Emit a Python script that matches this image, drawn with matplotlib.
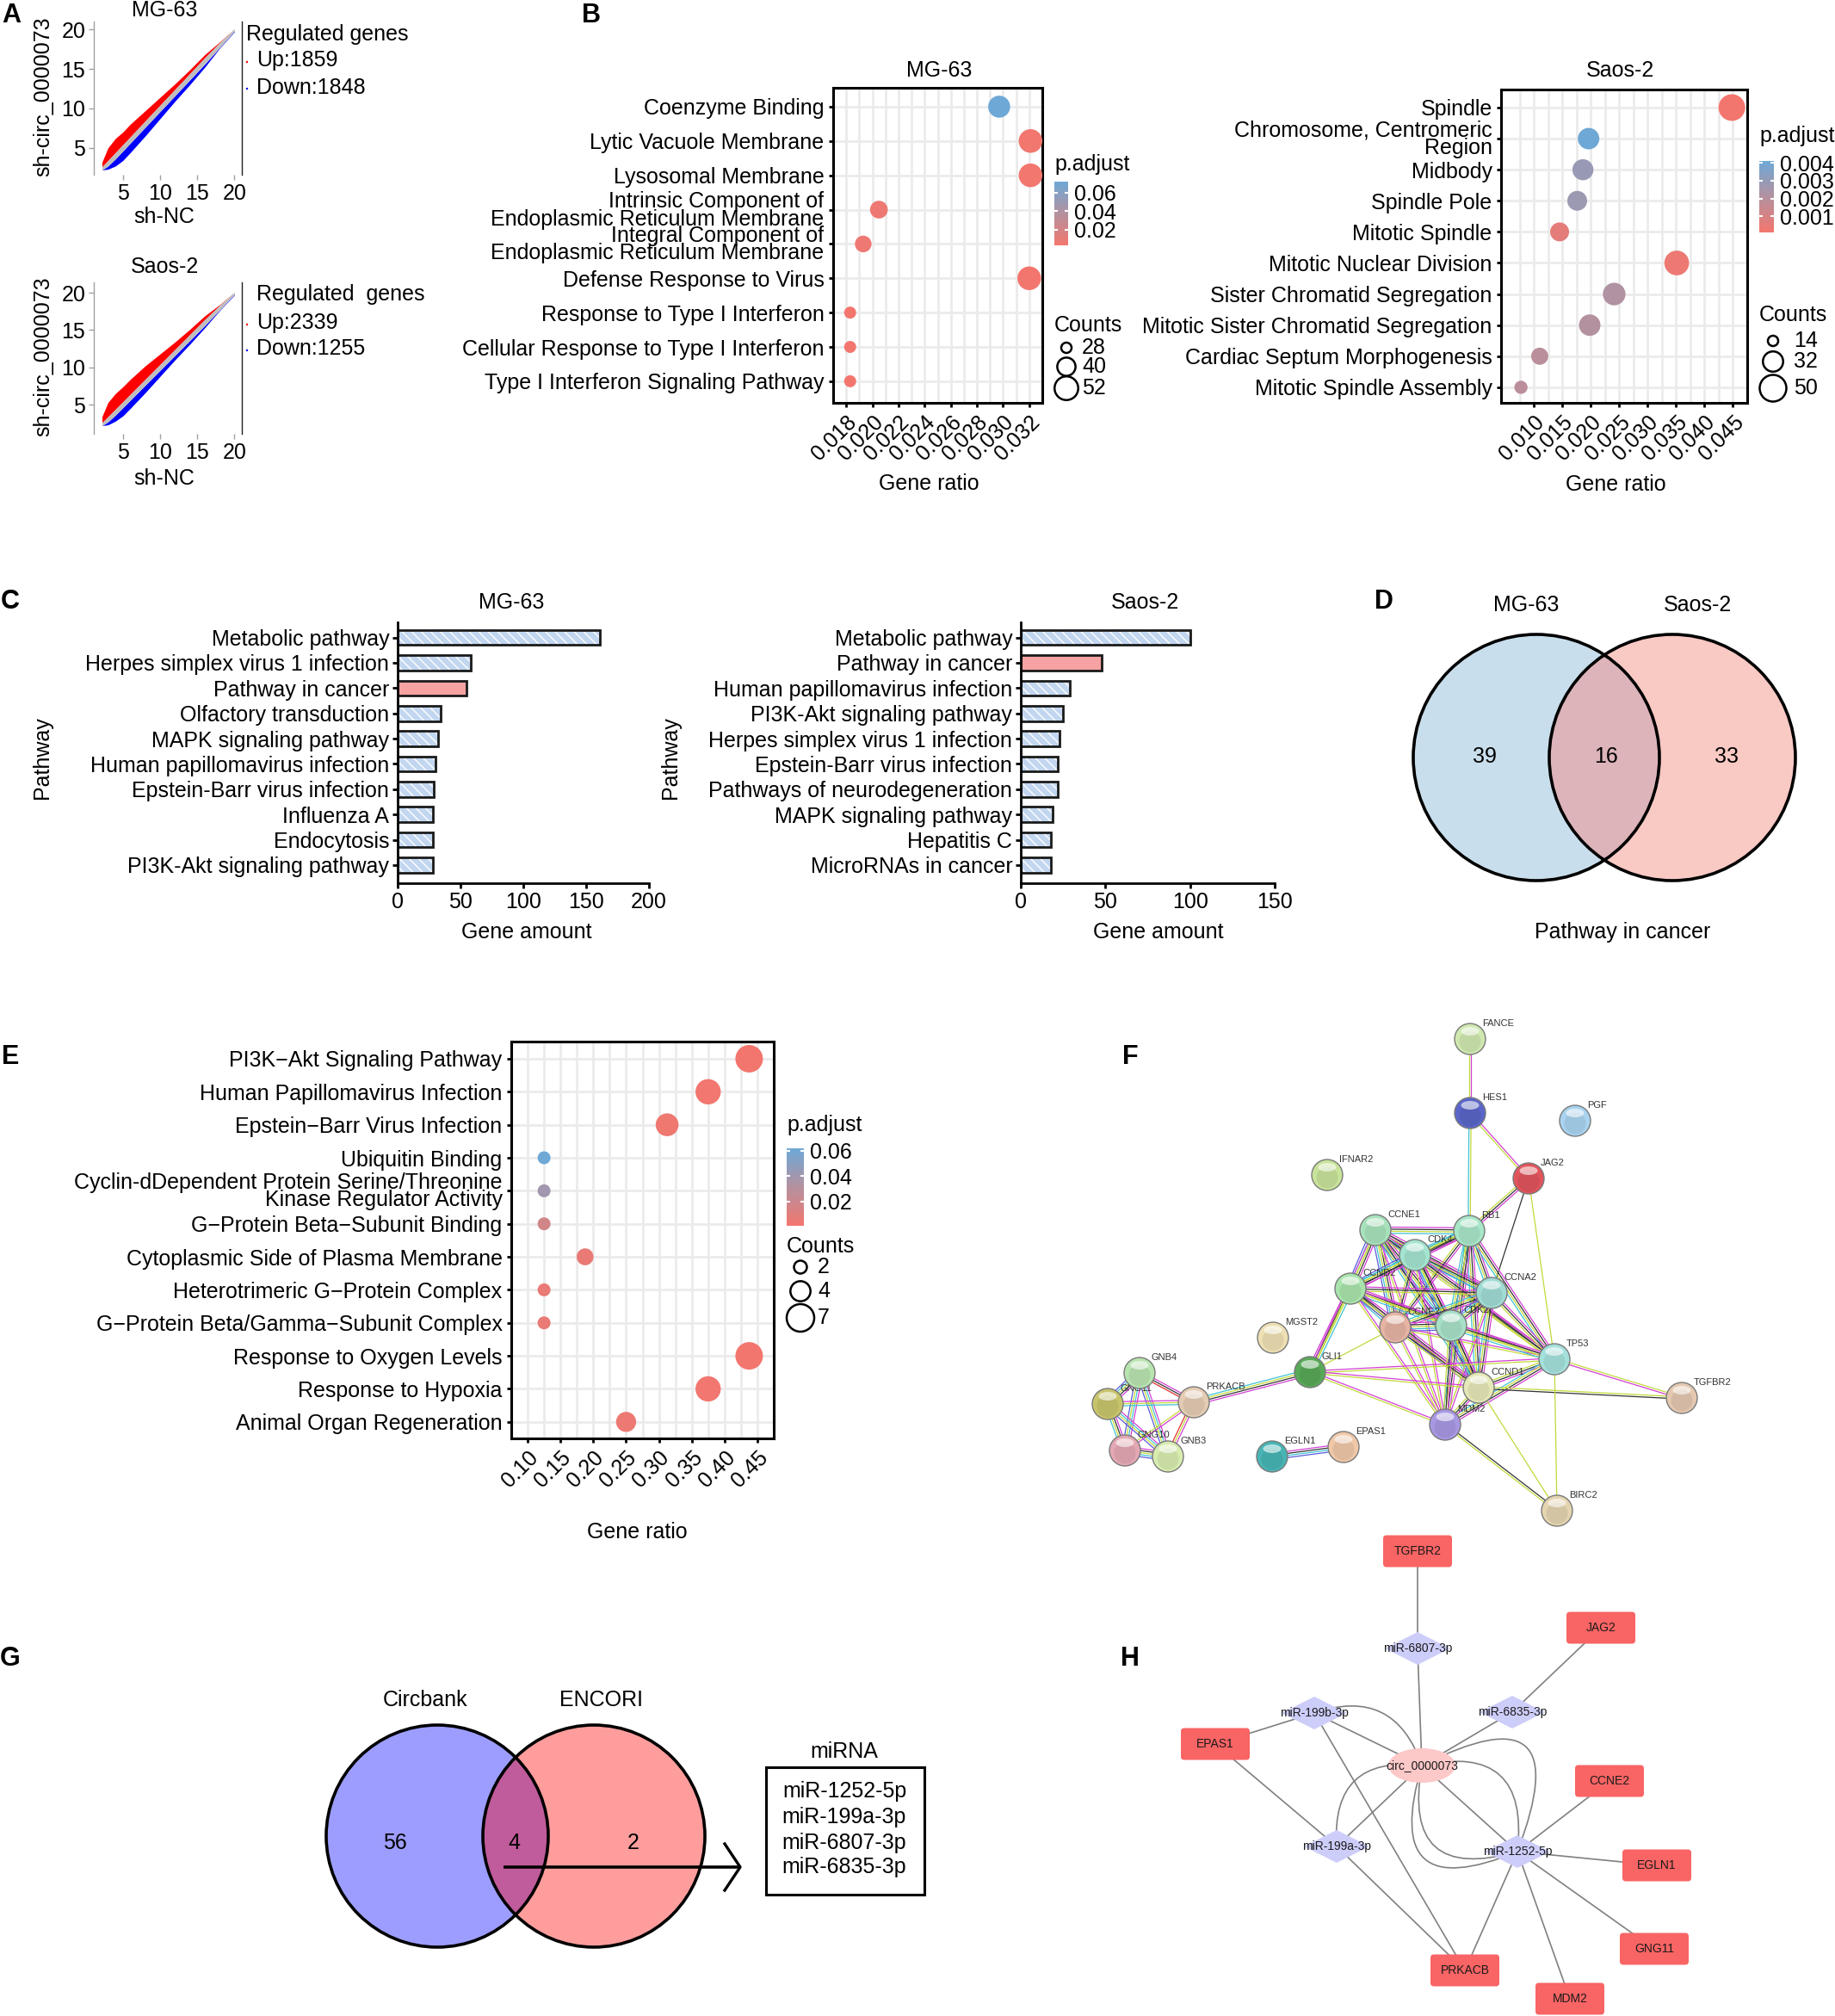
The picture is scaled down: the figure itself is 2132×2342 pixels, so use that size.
import numpy as np
import matplotlib
matplotlib.use("Agg")
import matplotlib.pyplot as plt
from matplotlib.patches import Circle, Ellipse, Polygon, FancyBboxPatch, Rectangle, FancyArrowPatch
from matplotlib.colors import LinearSegmentedColormap, Normalize
from matplotlib.cm import ScalarMappable

plt.rcParams['font.family'] = ['Liberation Sans', 'DejaVu Sans']

# ---------------- A: expression scatter (envelopes of the point clouds) ----------------
a_x = [2.2, 3, 4, 5, 6, 8, 10, 12, 14, 16, 18, 20]
mg_red_top = [3.2, 5.0, 6.2, 7.0, 8.0, 9.7, 11.4, 13.1, 14.9, 16.8, 18.4, 20.1]
mg_gray_top = [2.6, 3.4, 4.4, 5.4, 6.4, 8.4, 10.4, 12.4, 14.4, 16.4, 18.3, 20.1]
mg_gray_bot = [2.2, 2.7, 3.6, 4.6, 5.6, 7.6, 9.6, 11.6, 13.6, 15.6, 17.7, 19.8]
mg_blue_bot = [2.2, 2.3, 2.7, 3.4, 4.4, 6.5, 8.7, 10.9, 13.0, 15.2, 17.6, 19.7]
saos_red_top = [3.4, 5.3, 6.5, 7.4, 8.4, 10.2, 11.8, 13.4, 15.1, 16.9, 18.4, 20.1]
saos_gray_top = [2.6, 3.4, 4.4, 5.4, 6.4, 8.4, 10.4, 12.4, 14.4, 16.4, 18.3, 20.1]
saos_gray_bot = [2.2, 2.7, 3.6, 4.6, 5.6, 7.6, 9.6, 11.6, 13.6, 15.6, 17.7, 19.8]
saos_blue_bot = [2.2, 2.3, 2.8, 3.5, 4.5, 6.6, 8.8, 11.0, 13.1, 15.3, 17.6, 19.7]
mg_up, mg_down = 1859, 1848
saos_up, saos_down = 2339, 1255

# ---------------- B: GO dot plots ----------------
b1_terms = ['Coenzyme Binding', 'Lytic Vacuole Membrane', 'Lysosomal Membrane',
            'Intrinsic Component of\nEndoplasmic Reticulum Membrane',
            'Integral Component of\nEndoplasmic Reticulum Membrane',
            'Defense Response to Virus', 'Response to Type I Interferon',
            'Cellular Response to Type I Interferon', 'Type I Interferon Signaling Pathway']
b1_ratio = [0.0297, 0.0321, 0.0321, 0.0205, 0.0193, 0.0320, 0.0183, 0.0183, 0.0183]
b1_count = [48, 52, 52, 39, 37, 52, 30, 30, 30]
b1_padj = [0.072, 0.004, 0.004, 0.006, 0.006, 0.003, 0.003, 0.003, 0.003]
b1_xticks = [0.018, 0.020, 0.022, 0.024, 0.026, 0.028, 0.030, 0.032]

b2_terms = ['Spindle', 'Chromosome, Centromeric\nRegion', 'Midbody', 'Spindle Pole', 'Mitotic Spindle',
            'Mitotic Nuclear Division', 'Sister Chromatid Segregation',
            'Mitotic Sister Chromatid Segregation', 'Cardiac Septum Morphogenesis',
            'Mitotic Spindle Assembly']
b2_ratio = [0.0448, 0.0196, 0.0186, 0.0176, 0.0145, 0.0351, 0.0241, 0.0198, 0.0110, 0.0077]
b2_count = [50, 35, 34, 31, 29, 44, 38, 35, 25, 18]
b2_padj = [0.0001, 0.0041, 0.0029, 0.0028, 0.0006, 0.0003, 0.0022, 0.0021, 0.0019, 0.0019]
b2_xticks = [0.010, 0.015, 0.020, 0.025, 0.030, 0.035, 0.040, 0.045]

# ---------------- C: KEGG bars ----------------
c1_path = ['Metabolic pathway', 'Herpes simplex virus 1 infection', 'Pathway in cancer',
           'Olfactory transduction', 'MAPK signaling pathway', 'Human papillomavirus infection',
           'Epstein-Barr virus infection', 'Influenza A', 'Endocytosis', 'PI3K-Akt signaling pathway']
c1_genes = [161, 58, 55, 34, 32, 30, 29, 28, 28, 28]
c2_path = ['Metabolic pathway', 'Pathway in cancer', 'Human papillomavirus infection',
           'PI3K-Akt signaling pathway', 'Herpes simplex virus 1 infection',
           'Epstein-Barr virus infection', 'Pathways of neurodegeneration', 'MAPK signaling pathway',
           'Hepatitis C', 'MicroRNAs in cancer']
c2_genes = [100, 48, 29, 25, 23, 22, 22, 19, 18, 18]

# ---------------- D / G: Venn counts ----------------
d_sets = ['MG-63', 'Saos-2']
d_counts = [39, 16, 33]
g_sets = ['Circbank', 'ENCORI']
g_counts = [56, 4, 2]
g_mirna = ['miR-1252-5p', 'miR-199a-3p', 'miR-6807-3p', 'miR-6835-3p']

# ---------------- E: enrichment of the 16 shared genes ----------------
e_terms = ['PI3K\u2212Akt Signaling Pathway', 'Human Papillomavirus Infection',
           'Epstein\u2212Barr Virus Infection', 'Ubiquitin Binding',
           'Cyclin-dDependent Protein Serine/Threonine\nKinase Regulator Activity',
           'G\u2212Protein Beta\u2212Subunit Binding', 'Cytoplasmic Side of Plasma Membrane',
           'Heterotrimeric G\u2212Protein Complex', 'G\u2212Protein Beta/Gamma\u2212Subunit Complex',
           'Response to Oxygen Levels', 'Response to Hypoxia', 'Animal Organ Regeneration']
e_ratio = [0.4375, 0.375, 0.3125, 0.125, 0.125, 0.125, 0.1875, 0.125, 0.125, 0.4375, 0.375, 0.25]
e_count = [7, 6, 5, 2, 2, 2, 3, 2, 2, 7, 6, 4]
e_padj = [0.001, 0.002, 0.003, 0.062, 0.040, 0.018, 0.006, 0.006, 0.006, 0.001, 0.002, 0.004]
e_xticks = [0.10, 0.15, 0.20, 0.25, 0.30, 0.35, 0.40, 0.45]

# ---------------- F: STRING network ----------------
f_nodes = ['FANCE', 'HES1', 'PGF', 'IFNAR2', 'JAG2', 'CCNE1', 'RB1', 'CDK4', 'CCND2', 'CCNA2',
           'CCNE2', 'CDK2', 'MGST2', 'TP53', 'GLI1', 'CCND1', 'TGFBR2', 'GNB4', 'GNG11', 'PRKACB',
           'MDM2', 'GNG10', 'GNB3', 'EGLN1', 'EPAS1', 'BIRC2']
f_edges = [('FANCE', 'HES1', 'my'), ('HES1', 'RB1', 'yc'), ('HES1', 'JAG2', 'my'), ('JAG2', 'RB1', 'mky'),
           ('JAG2', 'CCNA2', 'k'), ('JAG2', 'TP53', 'y'),
           ('CCNE1', 'RB1', 'mkyc'), ('CCNE1', 'CDK4', 'mkyc'), ('CCNE1', 'CCND2', 'mkycb'),
           ('CCNE1', 'CCNA2', 'mkycb'), ('CCNE1', 'CCNE2', 'mkycb'), ('CCNE1', 'CDK2', 'mkycb'),
           ('CCNE1', 'TP53', 'mky'), ('CCNE1', 'CCND1', 'mkyc'), ('CCNE1', 'MDM2', 'my'),
           ('RB1', 'CDK4', 'mkyc'), ('RB1', 'CCND2', 'mkyc'), ('RB1', 'CCNA2', 'mkyc'), ('RB1', 'CCNE2', 'mky'),
           ('RB1', 'CDK2', 'mkyc'), ('RB1', 'TP53', 'mkyc'), ('RB1', 'CCND1', 'mkyc'), ('RB1', 'MDM2', 'mkyc'),
           ('CDK4', 'CCND2', 'mkycb'), ('CDK4', 'CCNA2', 'mkyc'), ('CDK4', 'CCNE2', 'mky'), ('CDK4', 'CDK2', 'mkyb'),
           ('CDK4', 'TP53', 'mky'), ('CDK4', 'CCND1', 'mkycb'), ('CDK4', 'MDM2', 'my'),
           ('CCND2', 'CCNA2', 'mky'), ('CCND2', 'CCNE2', 'mkyc'), ('CCND2', 'CDK2', 'mkyc'), ('CCND2', 'TP53', 'my'),
           ('CCND2', 'CCND1', 'mkyb'), ('CCND2', 'MDM2', 'my'),
           ('CCNA2', 'CCNE2', 'mkyc'), ('CCNA2', 'CDK2', 'mkycb'), ('CCNA2', 'TP53', 'mky'),
           ('CCNA2', 'CCND1', 'mkyc'), ('CCNA2', 'MDM2', 'my'),
           ('CCNE2', 'CDK2', 'mkycb'), ('CCNE2', 'TP53', 'my'), ('CCNE2', 'CCND1', 'mky'), ('CCNE2', 'MDM2', 'my'),
           ('CDK2', 'TP53', 'mkyc'), ('CDK2', 'CCND1', 'mkyc'), ('CDK2', 'MDM2', 'mky'),
           ('TP53', 'CCND1', 'mky'), ('TP53', 'MDM2', 'mkyc'), ('CCND1', 'MDM2', 'mky'),
           ('GLI1', 'CCND2', 'mkyc'), ('GLI1', 'CCNE1', 'my'), ('GLI1', 'TP53', 'my'), ('GLI1', 'CCND1', 'my'),
           ('GLI1', 'MDM2', 'my'), ('GLI1', 'PRKACB', 'mkyc'), ('GLI1', 'CCNE2', 'y'),
           ('TGFBR2', 'TP53', 'my'), ('TGFBR2', 'CCND1', 'ky'),
           ('MDM2', 'BIRC2', 'ky'), ('CCND1', 'BIRC2', 'y'), ('TP53', 'BIRC2', 'y'),
           ('GNB4', 'GNG11', 'mkycb'), ('GNB4', 'PRKACB', 'mkr'), ('GNB4', 'GNG10', 'mcyb'), ('GNB4', 'GNB3', 'mcyb'),
           ('GNG11', 'PRKACB', 'myc'), ('GNG11', 'GNG10', 'mkyc'), ('GNG11', 'GNB3', 'mcyb'),
           ('PRKACB', 'GNG10', 'my'), ('PRKACB', 'GNB3', 'myr'), ('GNG10', 'GNB3', 'mkycb'),
           ('EGLN1', 'EPAS1', 'mkcb')]

# ---------------- H: ceRNA network ----------------
h_nodes = ['TGFBR2', 'JAG2', 'EPAS1', 'CCNE2', 'EGLN1', 'GNG11', 'PRKACB', 'MDM2',
           'miR-6807-3p', 'miR-199b-3p', 'miR-6835-3p', 'circ_0000073', 'miR-199a-3p', 'miR-1252-5p']
h_kind = ['gene'] * 8 + ['mirna'] * 3 + ['circ'] + ['mirna'] * 2
h_edges = [('TGFBR2', 'miR-6807-3p'), ('miR-6807-3p', 'circ_0000073'), ('JAG2', 'miR-6835-3p'),
           ('miR-6835-3p', 'circ_0000073'), ('EPAS1', 'miR-199b-3p'), ('miR-199b-3p', 'circ_0000073'),
           ('miR-199b-3p', 'PRKACB'), ('EPAS1', 'miR-199a-3p'), ('miR-199a-3p', 'circ_0000073'),
           ('miR-199a-3p', 'PRKACB'), ('circ_0000073', 'miR-1252-5p'), ('miR-1252-5p', 'CCNE2'),
           ('miR-1252-5p', 'EGLN1'), ('miR-1252-5p', 'GNG11'), ('miR-1252-5p', 'MDM2'),
           ('miR-1252-5p', 'PRKACB')]
h_loops = [('circ_0000073', 'miR-199b-3p'), ('circ_0000073', 'miR-199a-3p'),
           ('circ_0000073', 'miR-1252-5p'), ('circ_0000073', 'miR-1252-5p'),
           ('circ_0000073', 'miR-1252-5p'), ('circ_0000073', 'miR-1252-5p')]

# ================= layout (pixel positions of the original figure) =================
W, H = 2132, 2342
fig = plt.figure(figsize=(W / 100, H / 100), dpi=100)


def rect(l, t, r, b):
    return [l / W, 1 - b / H, (r - l) / W, (b - t) / H]


def ptext(x, y, s, **kw):
    kw.setdefault('ha', 'center')
    kw.setdefault('va', 'center')
    kw.setdefault('fontsize', 18)
    return fig.text(x / W, 1 - y / H, s, **kw)


ov = fig.add_axes([0, 0, 1, 1], zorder=-5)
ov.set_xlim(0, W)
ov.set_ylim(H, 0)
ov.axis('off')

for lab, x, y in [('A', 13, 18), ('B', 687, 18), ('C', 12, 699), ('D', 1608, 699),
                  ('E', 12, 1228), ('F', 1313, 1228), ('G', 12, 1927), ('H', 1313, 1927)]:
    ptext(x, y, lab, fontsize=22, fontweight='bold')

# ---------------- A ----------------
def scatter_panel(box, red_top, gray_top, gray_bot, blue_bot, ylim):
    ax = fig.add_axes(rect(*box))
    ax.fill_between(a_x, gray_top, red_top, color='#FF0000', lw=0)
    ax.fill_between(a_x, blue_bot, gray_bot, color='#0000FF', lw=0)
    ax.fill_between(a_x, gray_bot, gray_top, color='#BEBEBE', lw=0)
    ax.set_xlim(1.1, 21.0)
    ax.set_ylim(*ylim)
    ax.set_xticks([5, 10, 15, 20])
    ax.set_yticks([5, 10, 15, 20])
    ax.spines['top'].set_visible(False)
    ax.spines['bottom'].set_visible(False)
    ax.spines['left'].set_color('#A0A0A0')
    ax.spines['right'].set_color('#202020')
    ax.spines['left'].set_linewidth(1.0)
    ax.spines['right'].set_linewidth(1.0)
    ax.tick_params(labelsize=18, color='#A0A0A0', length=4, width=1, pad=3)
    return ax


scatter_panel((109, 25, 281, 203), mg_red_top, mg_gray_top, mg_gray_bot, mg_blue_bot, (1.6, 21.0))
scatter_panel((109, 328, 281, 504), saos_red_top, saos_gray_top, saos_gray_bot, saos_blue_bot, (1.1, 21.4))
ptext(191, 12, 'MG-63')
ptext(191, 310, 'Saos-2')
ptext(191, 252, 'sh-NC')
ptext(191, 556, 'sh-NC')
ptext(50, 112, 'sh-circ_0000073', rotation=90)
ptext(50, 414, 'sh-circ_0000073', rotation=90)
ptext(286, 40, 'Regulated genes', ha='left')
ptext(298, 70, f'Up:{mg_up}', ha='left')
ptext(298, 102, f'Down:{mg_down}', ha='left')
ptext(298, 342, 'Regulated  genes', ha='left')
ptext(298, 375, f'Up:{saos_up}', ha='left')
ptext(298, 405, f'Down:{saos_down}', ha='left')
ov.scatter([287, 287, 287, 287], [72, 103, 377, 407], s=3, c=['red', 'blue', 'red', 'blue'], lw=0)

# ---------------- dot plots (B, E) ----------------
cmap = LinearSegmentedColormap.from_list('padj', ['#F3766E', '#B4919F', '#6EA8D6'])


def diam(count, lo, hi):
    # area-linear size scale calibrated on the legend keys (count, diameter px)
    (c0, d0), (c1, d1) = lo, hi
    b = (d1 ** 2 - d0 ** 2) / (c1 - c0)
    a = d0 ** 2 - b * c0
    return np.sqrt(a + b * np.asarray(count, float))


def dot_panel(box, terms, ratio, count, padj, xlim, xticks, fmt, size_cal, pad_y):
    ax = fig.add_axes(rect(*box))
    n = len(terms)
    y = np.arange(n)[::-1]
    d = diam(count, *size_cal)
    ax.scatter(ratio, y, s=(d * 0.72) ** 2, c=padj, cmap=cmap, vmin=min(padj), vmax=max(padj),
               lw=0, zorder=3, clip_on=False)
    ax.set_xlim(*xlim)
    ax.set_ylim(-pad_y[1], n - 1 + pad_y[0])
    ax.set_xticks(xticks)
    ax.set_xticklabels([fmt.format(v) for v in xticks], rotation=45, ha='right', va='top',
                       rotation_mode='anchor')
    step = xticks[1] - xticks[0]
    ax.set_xticks(np.arange(xticks[0] - step / 2, xticks[-1] + step, step), minor=True)
    ax.set_yticks(y)
    ax.set_yticklabels(terms)
    for t in ax.get_yticklabels():
        t.set_linespacing(0.82)
    ax.grid(which='both', axis='x', color='#EBEBEB', lw=2.0)
    ax.grid(which='major', axis='y', color='#EBEBEB', lw=2.0)
    ax.set_axisbelow(True)
    for s in ax.spines.values():
        s.set_linewidth(2.2)
    ax.tick_params(which='major', labelsize=18, length=3.5, width=2, pad=4)
    ax.tick_params(which='minor', length=0)
    return ax


def padj_bar(box, lo, hi, ticks, fmt):
    cax = fig.add_axes(rect(*box))
    cb = fig.colorbar(ScalarMappable(norm=Normalize(lo, hi), cmap=cmap), cax=cax, ticks=ticks)
    cb.outline.set_visible(False)
    cax.set_yticklabels([fmt.format(t) for t in ticks])
    cax.tick_params(axis='y', direction='in', color='white', length=3, width=1.5,
                    left=True, right=True, labelleft=False, labelright=True, labelsize=18, pad=5)


def count_key(x_c, x_t, ys, values, size_cal):
    d = diam(values, *size_cal)
    ov.scatter([x_c] * len(values), ys, s=(d * 0.72) ** 2, facecolor='white', edgecolor='black', lw=1.8)
    for yy, v in zip(ys, values):
        ptext(x_t, yy, str(v), ha='left')


# B MG-63
b1_cal = ((28, 12.0), (52, 27.5))
dot_panel((968, 102, 1211, 468), b1_terms, b1_ratio, b1_count, b1_padj, (0.01766, 0.03284),
          b1_xticks, '{:.3f}', b1_cal, (0.55, 0.63))
ptext(1091, 82, 'MG-63')
ptext(1079, 562, 'Gene ratio')
padj_bar((1225, 211, 1241, 285), min(b1_padj), max(b1_padj), [0.02, 0.04, 0.06], '{:.2f}')
ptext(1225, 191, 'p.adjust', ha='left')
ptext(1225, 378, 'Counts', ha='left')
count_key(1239, 1257, [404, 426, 451], [28, 40, 52], b1_cal)

# B Saos-2
b2_cal = ((14, 12.0), (50, 31.0))
dot_panel((1744, 104, 2030, 468), b2_terms, b2_ratio, b2_count, b2_padj, (0.0042, 0.0468),
          b2_xticks, '{:.3f}', b2_cal, (0.58, 0.5))
ptext(1882, 82, 'Saos-2')
ptext(1877, 563, 'Gene ratio')
padj_bar((2044, 187, 2061, 270), min(b2_padj), max(b2_padj), [0.001, 0.002, 0.003, 0.004], '{:.3f}')
ptext(2044, 158, 'p.adjust', ha='left')
ptext(2044, 366, 'Counts', ha='left')
count_key(2060, 2084, [396, 420, 451], [14, 32, 50], b2_cal)

# E
e_cal = ((2, 15.0), (7, 32.0))
dot_panel((594, 1210, 899, 1671), e_terms, e_ratio, e_count, e_padj, (0.0995, 0.452),
          e_xticks, '{:.2f}', e_cal, (0.52, 0.5))
ptext(740, 1780, 'Gene ratio')
padj_bar((914, 1334, 934, 1424), min(e_padj), max(e_padj), [0.02, 0.04, 0.06], '{:.2f}')
ptext(914, 1307, 'p.adjust', ha='left')
ptext(914, 1448, 'Counts', ha='left')
count_key(930, 950, [1472, 1500, 1531], [2, 4, 7], e_cal)

# ---------------- C ----------------
def bar_panel(box, names, genes, xmax, xticks):
    ax = fig.add_axes(rect(*box))
    y = np.arange(len(names))
    for yi, g, nm in zip(y, genes, names):
        if nm == 'Pathway in cancer':
            ax.barh(yi, g, height=0.6, color='#F6A2A2', edgecolor='#1A1A1A', lw=2)
        else:
            ax.barh(yi, g, height=0.6, color='#C2D6EF', edgecolor='white', hatch='\\\\\\', lw=0)
            ax.barh(yi, g, height=0.6, color='none', edgecolor='#1A1A1A', lw=2)
    ax.set_xlim(0, xmax)
    ax.set_ylim(len(names) - 1 + 0.72, -0.6)
    ax.set_xticks(xticks)
    ax.set_yticks(y)
    ax.set_yticklabels(names)
    ax.spines['top'].set_visible(False)
    ax.spines['right'].set_visible(False)
    ax.spines['left'].set_linewidth(2)
    ax.spines['bottom'].set_linewidth(2)
    ax.tick_params(labelsize=18, length=4, width=2, pad=3)
    return ax


bar_panel((462, 723, 754, 1026), c1_path, c1_genes, 200, [0, 50, 100, 150, 200])
bar_panel((1186, 723, 1481, 1026), c2_path, c2_genes, 150, [0, 50, 100, 150])
ptext(594, 700, 'MG-63')
ptext(1330, 700, 'Saos-2')
ptext(612, 1083, 'Gene amount')
ptext(1346, 1083, 'Gene amount')
ptext(49, 880, 'Pathway', rotation=90)
ptext(779, 880, 'Pathway', rotation=90)

# ---------------- Venn helper (D, G) ----------------
def venn(ax, c1, c2, r, cols, counts, label_xy):
    left = Circle(c1, r, fc=cols[0], ec='none', zorder=1)
    right = Circle(c2, r, fc=cols[1], ec='none', zorder=1)
    ax.add_patch(left)
    ax.add_patch(right)
    mid = Circle(c1, r, fc=cols[2], ec='none', zorder=2)
    ax.add_patch(mid)
    mid.set_clip_path(right)
    for c in (c1, c2):
        ax.add_patch(Circle(c, r, fc='none', ec='black', lw=2.6, zorder=3))
    for (x, y), v in zip(label_xy, counts):
        ptext(x, y, str(v))


venn(ov, (1785, 880), (1943, 880), 143, ['#C9DEEC', '#F9C9C4', '#DDB4BA'], d_counts,
     [(1725, 879), (1866, 879), (2006, 879)])
ptext(1773, 703, d_sets[0])
ptext(1972, 703, d_sets[1])
ptext(1885, 1083, 'Pathway in cancer')

venn(ov, (508, 2133), (690, 2133), 129, ['#9D9DFF', '#FF9D9D', '#C05C9B'], g_counts,
     [(459, 2141), (597, 2141), (736, 2141)])
ptext(494, 1975, g_sets[0])
ptext(699, 1975, g_sets[1])
ov.plot([585, 858], [2169, 2169], color='black', lw=2.6, zorder=4, solid_capstyle='butt')
ov.plot([842, 860, 842], [2142, 2169, 2196], color='black', lw=2.4, zorder=4)
ov.add_patch(Rectangle((890, 2053), 184, 148, fc='none', ec='black', lw=2.2, zorder=4))
ptext(981, 2035, 'miRNA')
for yy, m in zip([2081, 2111, 2141, 2169], g_mirna):
    ptext(981, yy, m)

# ---------------- F: STRING network ----------------
f_xy = [(1708, 1207), (1708, 1293), (1830, 1302), (1542, 1365), (1776, 1369), (1598, 1429), (1707, 1430),
        (1644, 1458), (1569, 1497), (1733, 1502), (1621, 1542), (1686, 1540), (1479, 1554), (1806, 1579),
        (1522, 1594), (1718, 1612), (1954, 1624), (1324, 1595), (1287, 1631), (1387, 1629), (1679, 1655),
        (1307, 1685), (1357, 1692), (1478, 1692), (1561, 1681), (1809, 1755)]
f_col = ['#CFE8B0', '#5A66C8', '#A9D3EF', '#C8E39A', '#E0545C', '#A8E2BC', '#A8E6C8', '#A4E4D0', '#A8E4AC',
         '#A0DCD4', '#E6B4A4', '#A8E0C8', '#EEE0B4', '#A4E0DC', '#58A858', '#E6E8B8', '#E4C8B0', '#B8E4B0',
         '#C8C46C', '#E4CCB4', '#A898E4', '#E4A8B4', '#D8ECB0', '#48B4B4', '#F0C8A8', '#E4D4B0']
ev_col = {'m': '#D43FD4', 'y': '#C3D93A', 'k': '#333333', 'c': '#3FC2D4', 'b': '#5A5ADC',
          'r': '#E03030', 'g': '#3A9A3A'}
fax = fig.add_axes(rect(1250, 1150, 2132, 1800))
fax.set_xlim(1250, 2132)
fax.set_ylim(1800, 1150)
fax.axis('off')
pos = dict(zip(f_nodes, f_xy))
for a, b, ev in f_edges:
    (x1, y1), (x2, y2) = pos[a], pos[b]
    L = np.hypot(x2 - x1, y2 - y1)
    nx, ny = -(y2 - y1) / L, (x2 - x1) / L
    for i, c in enumerate(ev):
        o = (i - (len(ev) - 1) / 2) * 2.4
        fax.plot([x1 + nx * o, x2 + nx * o], [y1 + ny * o, y2 + ny * o], color=ev_col[c], lw=0.9, zorder=1)
for nm, (x, y), c in zip(f_nodes, f_xy, f_col):
    fax.text(x + 14, y - 13, nm, fontsize=8, color='#333333', ha='left', va='bottom', zorder=2)
    fax.add_patch(Circle((x, y), 18, fc=c, ec='#7A7A7A', lw=1.0, zorder=3))
    fax.add_patch(Circle((x, y + 3), 12.5, fc='black', alpha=0.07, ec='none', zorder=4))
    fax.add_patch(Ellipse((x, y - 9), 21, 10, fc='white', alpha=0.6, ec='none', zorder=5))

# ---------------- H: ceRNA network ----------------
h_xy = [(1647, 1802), (1860, 1891), (1412, 2026), (1870, 2069), (1925, 2167), (1922, 2264), (1702, 2289),
        (1824, 2322), (1647, 1915), (1527, 1990), (1757, 1989), (1652, 2051), (1553, 2145), (1763, 2151)]
h_rad = [0.5, 0.6, -1.3, -0.7, 0.8, 1.05]
hax = fig.add_axes(rect(1280, 1760, 2132, 2342))
hax.set_xlim(1280, 2132)
hax.set_ylim(2342, 1760)
hax.axis('off')
hpos = dict(zip(h_nodes, h_xy))
for a, b in h_edges:
    hax.plot([hpos[a][0], hpos[b][0]], [hpos[a][1], hpos[b][1]], color='#808080', lw=1.2, zorder=1)
for (a, b), r in zip(h_loops, h_rad):
    hax.add_patch(FancyArrowPatch(hpos[a], hpos[b], connectionstyle=f'arc3,rad={r}', arrowstyle='-',
                                  color='#808080', lw=1.2, shrinkA=0, shrinkB=0, zorder=1))
for nm, k, (x, y) in zip(h_nodes, h_kind, h_xy):
    if k == 'gene':
        hax.add_patch(FancyBboxPatch((x - 40, y - 18.5), 80, 37, boxstyle='round,pad=0,rounding_size=4',
                                     fc='#F96464', ec='none', zorder=2))
    elif k == 'mirna':
        hax.add_patch(Polygon([(x - 38, y), (x, y - 19), (x + 38, y), (x, y + 19)], closed=True,
                              fc='#CDCDFA', ec='none', zorder=2))
    else:
        hax.add_patch(Ellipse((x, y), 78, 40, fc='#FCC8C8', ec='none', zorder=2))
    hax.text(x, y, nm, fontsize=10, ha='center', va='center', color='#1A1A1A', zorder=3,
             fontstretch='condensed')

fig.savefig('out.png', dpi=100)
